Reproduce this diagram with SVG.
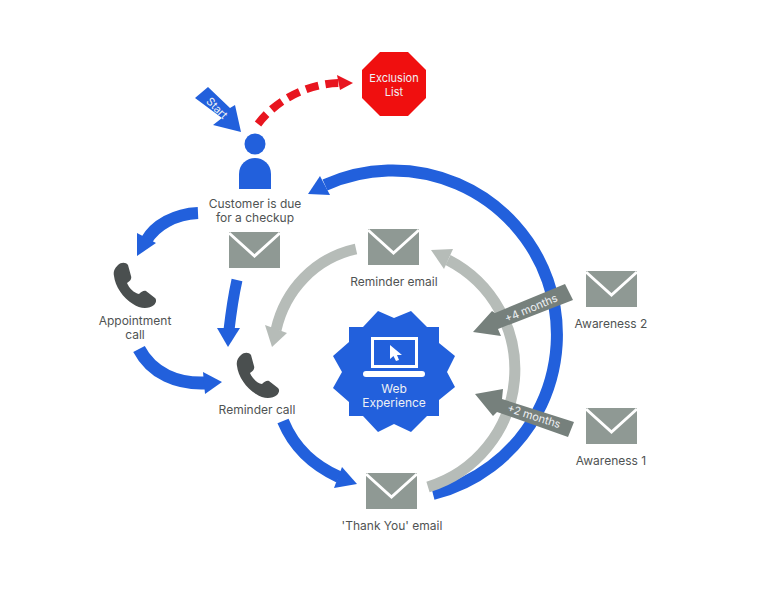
<svg xmlns="http://www.w3.org/2000/svg" width="768" height="593" viewBox="0 0 768 593">
<style>
text{font-family:"Inter","Liberation Sans",sans-serif;font-size:12px;fill:#4f5353;text-anchor:middle}
text.w{fill:#eef0f4}
text.s{font-size:11px}
.blue{fill:none;stroke:#2260dc;stroke-width:11}
.gr{fill:none;stroke:#b6bcb8;stroke-width:11}
.bh{fill:#2260dc}
.gh{fill:#b6bcb8}
.env{fill:#8f9994}
.fl{fill:none;stroke:#fff;stroke-width:3}
.ban{fill:#76807c}
</style>
<defs>
<g id="envelope"><rect class="env" x="0" y="0" width="51" height="36"/><path class="fl" d="M0 1L25.500 24L51 1"/></g>
<path id="phone" fill="#4a4f4f" d="M5 3C8 0 13 0 15 3L18 14C19 17 17 19 14 21C16 26 21 31 26 32C28 30 31 28 33 29L42 36C44 38 43 41 41 43C36 47 27 47 20 42C10 36 2 24 1 14C0 9 2 6 5 3Z"/>
</defs>
<g id="connectors">
<path class="blue" style="stroke-width:12" d="M433 494A164.300 164.300 0 1 0 325 185"/>
<path class="bh" d="M308 194L320 176L330 195Z"/>
<path class="blue" style="stroke-width:12" d="M198 213C175 214 155 225 146 241"/>
<path class="bh" d="M137 256L137 233L156 243Z"/>
<path class="blue" d="M237 280C233 298 231 313 229 330"/>
<path class="bh" d="M228 347L217 328L240 328Z"/>
<path class="blue" style="stroke-width:13" d="M139 349C152 374 178 384 205 383"/>
<path class="bh" d="M222 382L203 372L205 394Z"/>
<path class="blue" style="stroke-width:12" d="M283 421C295 450 315 466 339 477"/>
<path class="bh" d="M357 484L342 467L334 488Z"/>
<path class="gr" d="M356 249C315 258 285 290 276 330"/>
<path class="gh" d="M272 347L265 325L287 333Z"/>
<path class="gr" d="M428 487A123 123 0 0 0 448 260"/>
<path class="gh" d="M431 250L453 249L444 269Z"/>
<path d="M258 124C280 95 315 83 340 83" fill="none" stroke="#e8151f" stroke-width="8" stroke-dasharray="13 7"/>
<path d="M353 83L337 75L340 90Z" fill="#e8151f"/>
</g>
<g id="start"><path class="bh" d="M195 98L208 87L230 108L235 105L241 132L213 125L222 118Z"/><text class="w s" transform="translate(217 108) rotate(45)" y="4">Start</text></g>
<g id="exclusion"><path d="M380 52H408L426 70V98L408 116H380L362 98V70Z" fill="#f00f0f"/><text class="w s" x="394" y="82">Exclusion</text><text class="w s" x="394" y="96">List</text></g>
<g id="customer"><circle class="bh" cx="255" cy="144" r="10.500"/><path class="bh" d="M239 189V174C239 164 247 158 255 158C263 158 271 164 271 174V189Z"/><text x="255" y="208">Customer is due</text><text x="255" y="222">for a checkup</text></g>
<g id="env-customer"><use href="#envelope" x="229" y="232"/></g>
<g id="appointment"><use href="#phone" x="113" y="262"/><text x="135" y="325">Appointment</text><text x="135" y="339">call</text></g>
<g id="reminder-call"><use href="#phone" x="236" y="352"/><text x="257" y="414">Reminder call</text></g>
<g id="reminder-email"><use href="#envelope" x="368" y="229"/><text x="394" y="286">Reminder email</text></g>
<g id="thankyou"><use href="#envelope" x="366" y="473"/><text x="392" y="530">'Thank You' email</text></g>
<g id="awareness2"><use href="#envelope" x="586" y="271"/><text x="611" y="328">Awareness 2</text></g>
<g id="awareness1"><use href="#envelope" x="586" y="408"/><text x="611" y="465">Awareness 1</text></g>
<g id="m4"><path class="ban" d="M473 332L492 311L495 313L565 284L573 300L498 329L501 336Z"/><text class="w s" transform="translate(531 308) rotate(-23)" y="4">+4 months</text></g>
<g id="m2"><path class="ban" d="M475 394L503 389L502 399L574 422L568 437L497 412L493 416Z"/><text class="w s" transform="translate(534 416) rotate(18)" y="4">+2 months</text></g>
<g id="web"><path class="bh" d="M378 311L394 318L411 311L427 327H439V343L455 356L447 372L455 387L439 400V416H427L411 432L394 424L378 432L363 416H349V402L333 388L342 372L333 356L349 342V327H363Z"/>
<rect x="372.500" y="338.500" width="44" height="28" fill="none" stroke="#fff" stroke-width="3"/><rect x="363" y="371" width="62" height="6" rx="3" fill="#fff"/><path d="M390 345V359L393.500 356L396 361L399 360L397 355L402 355Z" fill="#fff"/><text class="w" x="394" y="393">Web</text><text class="w" x="394" y="407">Experience</text></g>
</svg>
